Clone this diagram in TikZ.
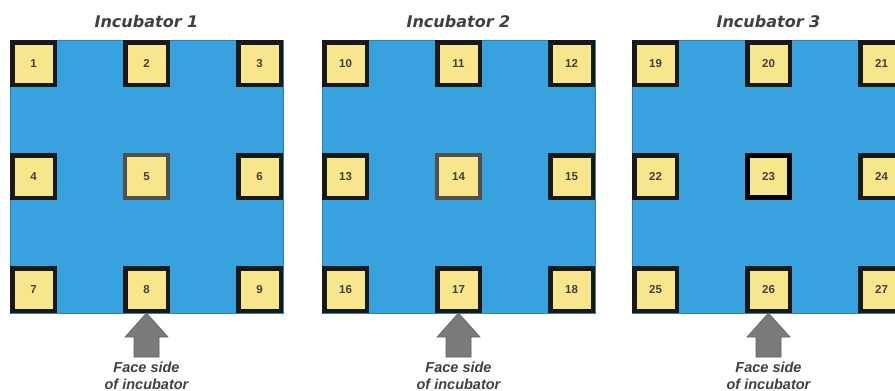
\documentclass[tikz,border=0pt]{standalone}
\usepackage{fontspec}
\setmainfont{Liberation Sans}
\newfontfamily\titlefont{DejaVu Sans}
\usepackage{tikz}
\usetikzlibrary{calc}

\definecolor{tankblue}{HTML}{38A2DE}
\definecolor{tankedge}{HTML}{2B80B4}
\definecolor{spotyellow}{HTML}{F8E68C}
\definecolor{rimgray}{HTML}{505050}
\definecolor{textgray}{HTML}{404040}
\definecolor{facegray}{HTML}{7A7A7A}

\begin{document}
\begin{tikzpicture}[
    x=1pt, y=-1pt,
    tank/.style={rectangle, draw=tankedge, line width=1pt, fill=tankblue, minimum width=273pt, minimum height=273pt, inner sep=0pt, outer sep=0pt},
    spot/.style={rectangle, draw=black!90, line width=4.5pt, fill=spotyellow, minimum size=42.5pt, inner sep=0pt, text=textgray, font=\bfseries\fontsize{11.5}{12}\selectfont},
    rim5/.style={draw=rimgray, line width=4pt, minimum size=43pt},
    rim14/.style={draw=rimgray, line width=4pt, minimum size=43pt},
    rim23/.style={draw=black, line width=5pt, minimum size=42pt},
    title/.style={text=textgray, font=\titlefont\bfseries\itshape\fontsize{16}{18}\selectfont, inner sep=0pt},
    facetext/.style={text=textgray, align=center, inner sep=0pt, font=\bfseries\itshape\fontsize{14.5}{17}\selectfont},
]
    \useasboundingbox (0,0) rectangle (895,391);
    \clip (0,0) rectangle (895,391);
    \fill[white] (0,0) rectangle (895,391);
    % three incubators, nine sample spots each
    \foreach \inc/\x in {1/10,2/322,3/632} {
        \node[tank, anchor=north west] (tank\inc) at (\x,40) {};
        \node[title, anchor=base] (title\inc) at ($(tank\inc.north)+(0,-13)$) {Incubator \inc};
        \foreach \a [count=\k] in {north west,north,north east,west,center,east,south west,south,south east} {
            \pgfmathtruncatemacro\n{(\inc-1)*9+\k}
            \node[spot, rim\n/.try, anchor=\a] (s\n) at (tank\inc.\a) {\n};
        }
        % arrow pointing at the front spot
        \pgfmathtruncatemacro\f{(\inc-1)*9+8}
        \fill[facegray, draw=facegray!80!black, line width=0.6pt] (s\f.south) -- ++(21.5,24) -- ++(-9,0) -- ++(0,20)
            -- ++(-25,0) -- ++(0,-20) -- ++(-9,0) -- cycle;
        \coordinate (foot\inc) at ($(s\f.south)+(0,44)$);
        \node[facetext, anchor=north] (face\inc) at ($(foot\inc)+(0,5)$) {Face side\\of incubator};
    }
\end{tikzpicture}
\end{document}
